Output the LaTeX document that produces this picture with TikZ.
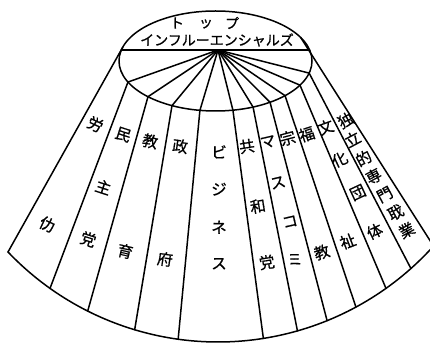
\documentclass[tikz,border=0pt]{standalone}
\usepackage{fontspec}
\newfontfamily\jp[FakeBold=0.8]{Noto Sans CJK JP}
\usetikzlibrary{calc}
\newcommand\jchar[1]{\makebox[13pt]{\raisebox{0pt}[11.6pt][1.4pt]{#1}}}
\begin{document}
\begin{tikzpicture}[x=1pt,y=-1pt,
  edge/.style={line width=1.5pt, line cap=round, line join=round},
  ch/.style={font=\jp\fontsize{15.5}{15.5}\selectfont, inner sep=0pt},
  toptext/.style={font=\jp\fontsize{14}{14}\selectfont, inner sep=0pt}]
\useasboundingbox (0,0) rectangle (430,344);
\coordinate (O) at (215.5,61);
\coordinate (C) at (218,50);
\coordinate (K) at (218,52);
\foreach \n/\t in {0/196,1/155.1,2/134.4,3/116.8,4/99.3,5/79.6,6/67.1,7/55.6,8/43.9,9/28.9,10/14,11/-28}
  \coordinate (E\n) at ($(O)+(\t:96.5 and 50)$);
\foreach \n/\a in {0/136.4,1/125.4,2/116.7,3/106.7,4/97.9,5/81.0,6/74.1,7/67.9,8/61.6,9/54.6,10/48.3,11/42}
  \coordinate (B\n) at ($(K)+(\a:290)$);
\coordinate (HL) at ($(O)+(192.7:96.5 and 50)$);
\coordinate (HR) at ($(O)+(-12.7:96.5 and 50)$);
% top disc
\draw[edge] (O) ellipse [x radius=96.5, y radius=50];
\draw[edge] (HL) -- (HR);
\foreach \n in {1,...,10} \draw[edge] (C) -- (E\n);
% cone
\foreach \n in {0,...,11} \draw[edge] (E\n) -- (B\n);
\draw[edge] (B0) arc[start angle=136.4, end angle=42, radius=290];
% top text
\node[toptext] (to1) at (177,23) {ト};
\node[toptext] (to2) at (206,24) {ッ};
\node[toptext] (to3) at (232,23) {プ};
\node[toptext] (inf) at (217,40) {インフルーエンシャルズ};
% columns
\node[ch,rotate=-25] (a1) at (95,125) {\jchar{労}};
\node[ch,rotate=-25] (a2) at (47,225) {\jchar{仂}};
\node[ch,rotate=-18] (b1) at (123,135) {\jchar{民}};
\node[ch,rotate=-18] (b2) at (103,188) {\jchar{主}};
\node[ch,rotate=-18] (b3) at (88,240) {\jchar{党}};
\node[ch,rotate=-13] (c1) at (150,142) {\jchar{教}};
\node[ch,rotate=-13] (c2) at (125,252) {\jchar{育}};
\node[ch,rotate=-8] (d1) at (180,147) {\jchar{政}};
\node[ch,rotate=-8] (d2) at (165,260) {\jchar{府}};
\node[ch] (e1) at (219,153) {\jchar{ビ}};
\node[ch] (e2) at (219,190) {\jchar{ジ}};
\node[ch] (e3) at (219,228) {\jchar{ネ}};
\node[ch] (e4) at (219,264) {\jchar{ス}};
\node[ch,rotate=9] (f1) at (247,147) {\jchar{共}};
\node[ch,rotate=9] (f2) at (258,207) {\jchar{和}};
\node[ch,rotate=9] (f3) at (267,263) {\jchar{党}};
\node[ch,rotate=13] (g1) at (268,142) {\jchar{マ}};
\node[ch,rotate=13] (g2) at (278,183) {\jchar{ス}};
\node[ch,rotate=13] (g3) at (290,222) {\jchar{コ}};
\node[ch,rotate=13] (g4) at (295,260) {\jchar{ミ}};
\node[ch,rotate=15] (h1) at (288,139) {\jchar{宗}};
\node[ch,rotate=17] (h2) at (322,253) {\jchar{教}};
\node[ch,rotate=18] (i1) at (307,135) {\jchar{福}};
\node[ch,rotate=21] (i2) at (348,242) {\jchar{祉}};
\node[ch,rotate=20] (j1) at (326,128) {\jchar{文}};
\node[ch,rotate=25] (j2) at (340,160) {\jchar{化}};
\node[ch,rotate=25] (j3) at (358,193) {\jchar{団}};
\node[ch,rotate=25] (j4) at (375,232) {\jchar{体}};
\node[ch,rotate=28] (k1) at (346,121) {\jchar{独}};
\node[ch,rotate=28] (k2) at (353,140) {\jchar{立}};
\node[ch,rotate=28] (k3) at (364,159) {\jchar{的}};
\node[ch,rotate=28] (k4) at (374,177) {\jchar{専}};
\node[ch,rotate=28] (k5) at (385,195) {\jchar{門}};
\node[ch,rotate=28] (k6) at (396,213) {\jchar{聀}};
\node[ch,rotate=28] (k7) at (407,231) {\jchar{業}};
\end{tikzpicture}
\end{document}
